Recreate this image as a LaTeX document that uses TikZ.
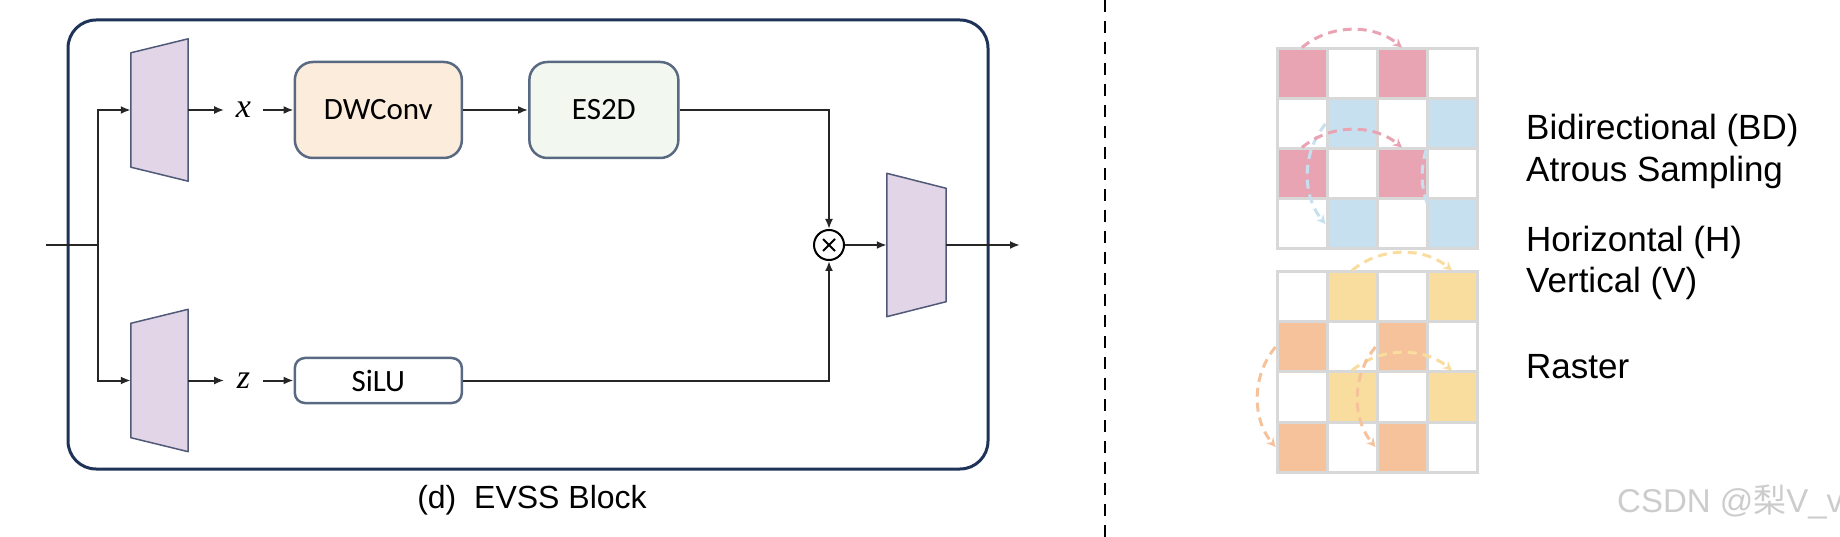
\documentclass[tikz,border=0pt]{standalone}
\usepackage{fontspec}
\setmainfont{Liberation Sans}
\newfontfamily\calibri{Carlito}
\newfontfamily\varfont{Liberation Serif}
\newfontfamily\cjk{Noto Sans CJK SC}
\usetikzlibrary{positioning,arrows.meta}
\definecolor{evNavy}{RGB}{31,50,87}
\definecolor{evEdge}{RGB}{90,105,130}
\definecolor{evLilac}{RGB}{225,213,231}
\definecolor{evLilacEdge}{RGB}{80,90,120}
\definecolor{evPeach}{RGB}{252,236,220}
\definecolor{evMint}{RGB}{242,248,239}
\definecolor{evPink}{RGB}{233,164,180}
\definecolor{evBlue}{RGB}{198,224,240}
\definecolor{evYellow}{RGB}{249,221,158}
\definecolor{evOrange}{RGB}{245,194,156}
\definecolor{evGrid}{RGB}{216,216,216}

\begin{document}
\begin{tikzpicture}[
    x=1pt, y=-1pt,
    blockbox/.style={draw=evNavy, line width=3pt, rounded corners=28pt, minimum width=920pt, minimum height=449pt, inner sep=0},
    proj/.style={minimum width=57pt, minimum height=142pt, inner sep=0},
    projfill/.style={fill=evLilac, draw=evLilacEdge, line width=1.5pt, line join=round},
    opbox/.style={draw=evEdge, line width=2.5pt, rounded corners=18pt, minimum width=167pt, minimum height=96pt, font=\calibri\fontsize{31}{36}\selectfont},
    var/.style={inner sep=0, minimum width=38pt, font=\varfont\itshape\fontsize{34}{36}\selectfont},
    mulnode/.style={circle, draw=black, fill=white, line width=2pt, minimum size=30pt, inner sep=0,
      path picture={\draw[line width=2pt]
        ([shift={(-6pt,-6pt)}]path picture bounding box.center) -- ([shift={(6pt,6pt)}]path picture bounding box.center)
        ([shift={(-6pt,6pt)}]path picture bounding box.center) -- ([shift={(6pt,-6pt)}]path picture bounding box.center);}},
    wire/.style={draw=black!85, line width=2pt},
    arr/.style={wire, -{Latex[length=10pt,width=8pt]}},
    cell/.style={draw=evGrid, line width=3pt, minimum size=50pt, inner sep=0},
    scan/.style={dash pattern=on 9pt off 6pt, line width=3pt, -{Stealth[length=9pt,width=9pt]}, looseness=0.95},
    legend/.style={anchor=base west, inner sep=0, font=\fontsize{35}{40}\selectfont}
]
  \useasboundingbox (0,0) rectangle (1840,537);

  \node[blockbox] (block) at (528,244.5) {};
  \node[proj] (inx) at (159.5,110) {};
  \node[proj] (inz) at (159.5,380.5) {};
  \node[proj, minimum width=59pt, minimum height=143pt] (outp) at (916.5,245) {};
  \foreach \p in {inx,inz}
    \draw[projfill] ([yshift=-14pt]\p.north west) -- (\p.north east) -- (\p.south east) -- ([yshift=14pt]\p.south west) -- cycle;
  \draw[projfill] (outp.north west) -- ([yshift=-15pt]outp.north east) -- ([yshift=15pt]outp.south east) -- (outp.south west) -- cycle;

  \node[var, right=36pt of inx] (xv) {x};
  \node[opbox, fill=evPeach, right=31pt of xv] (dw) {DWConv};
  \node[opbox, fill=evMint, minimum width=149pt, right=65pt of dw] (es) {ES2D};
  \node[var, right=36pt of inz] (zv) {z};
  \node[opbox, fill=white, minimum height=45pt, rounded corners=10pt, right=31pt of zv] (silu) {SiLU};
  \node[mulnode] (mul) at (829,245) {};

  \coordinate (src) at (46,245);
  \coordinate (fork) at (98,245);
  \coordinate (dst) at (1020,245);

  \draw[wire] (src) -- (fork);
  \draw[arr] (fork) |- (inx.west);
  \draw[arr] (fork) |- (inz.west);
  \draw[arr] (inx.east) -- (xv.west);
  \draw[arr] (xv.east) -- (dw.west);
  \draw[arr] (dw) -- (es);
  \draw[arr] (inz.east) -- (zv.west);
  \draw[arr] (zv.east) -- (silu.west);
  \draw[arr] (es.east) -| (mul.north);
  \draw[arr] (silu.east) -| (mul.south);
  \draw[arr] (mul) -- (outp.west);
  \draw[arr] (outp.east) -- (dst);

  \node[anchor=base, font=\fontsize{32}{36}\selectfont] (cap) at (532,508) {(d)~~EVSS Block};

  \coordinate (sepA) at (1105,0);
  \coordinate (sepB) at (1105,537);
  \draw[line width=2.5pt, dash pattern=on 12pt off 9pt] (sepA) -- (sepB);

  \foreach \r/\topfill/\botfill in {
      0/{evPink,white,evPink,white}/{white,evYellow,white,evYellow},
      1/{white,evBlue,white,evBlue}/{evOrange,white,evOrange,white},
      2/{evPink,white,evPink,white}/{white,evYellow,white,evYellow},
      3/{white,evBlue,white,evBlue}/{evOrange,white,evOrange,white}} {
    \foreach \f [count=\c from 0] in \topfill
      \node[cell, fill=\f] (t-\r-\c) at (1302+50*\c, 74+50*\r) {};
    \foreach \f [count=\c from 0] in \botfill
      \node[cell, fill=\f] (b-\r-\c) at (1302+50*\c, 297+50*\r) {};
  }

  \draw[scan, evBlue] (t-1-1.west) to[out=230, in=130] (t-3-1.west);
  \draw[scan, evBlue] ([xshift=15pt]t-1-3.west) to[out=230, in=130] ([xshift=15pt]t-3-3.west);
  \draw[scan, evPink] (t-0-0.north) to[out=40, in=140] (t-0-2.north);
  \draw[scan, evPink] (t-2-0.north) to[out=40, in=140] (t-2-2.north);
  \draw[scan, evYellow] (b-0-1.north) to[out=40, in=140] (b-0-3.north);
  \draw[scan, evYellow] (b-2-1.north) to[out=40, in=140] (b-2-3.north);
  \draw[scan, evOrange] (b-1-0.west) to[out=230, in=130] (b-3-0.west);
  \draw[scan, evOrange] (b-1-2.west) to[out=230, in=130] (b-3-2.west);

  \node[legend] (bd) at (1526,140) {Bidirectional (BD)};
  \node[legend] (atrous) at (1526,182) {Atrous Sampling};
  \node[legend] (hor) at (1526,252) {Horizontal (H)};
  \node[legend] (ver) at (1526,293) {Vertical (V)};
  \node[legend] (ras) at (1526,378) {Raster};

  \node[anchor=base west, inner sep=0, text=black!20, font=\fontsize{33}{36}\selectfont] (mark) at (1617,512) {CSDN @{\cjk 梨}V\_v};
\end{tikzpicture}
\end{document}
